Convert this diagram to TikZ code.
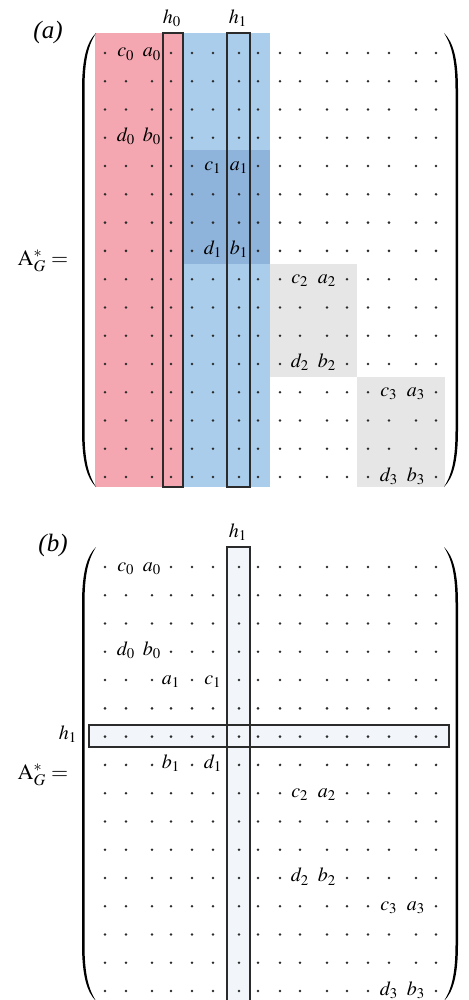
\documentclass[tikz,border=0pt]{standalone}
\usepackage{mathptmx}
\usepackage{fontspec}
\setmainfont{Liberation Serif}
\usepackage{tikz}
\usetikzlibrary{positioning}
\definecolor{spink}{HTML}{F4A7B0}
\definecolor{sblue}{HTML}{A9CDEB}
\definecolor{sdeep}{HTML}{8FB4DC}
\definecolor{sgrey}{HTML}{E6E6E6}
\definecolor{sline}{HTML}{2B2B2B}
\definecolor{stint}{HTML}{F2F6FA}
% column positions of the 16x16 grid
\newcommand{\colx}[1]{\ifcase#1\or 105\or 126\or 152\or 171\or 192\or 213\or 239\or 258\or 280\or 300\or 327\or 347\or 368\or 389\or 416\or 436\fi}
\newcommand{\ent}[5]{%
  \expandafter\gdef\csname ent@#1@#2@#3\endcsname{}%
  \node[ent] (#4) at ({\colx{#3}},{57+28.27*(#2-1)}) {$#5$};}
\newcommand{\dotgrid}[1]{%
  \foreach \rr in {1,...,16}{
    \foreach \xx [count=\cc] in {105,126,152,171,192,213,239,258,280,300,327,347,368,389,416,436}{
      \ifcsname ent@#1@\rr @\cc\endcsname\else
        \fill[mdot] (\xx,{53+28.27*(\rr-1)}) circle[radius=0.7pt];
      \fi}}}
\newcommand{\bigparen}[4]{% x of outer line, top, bottom, side (1 left, -1 right)
  \fill[brk] ({#1+#4*14},#2) .. controls ({#1+#4*5},{#2+9}) and (#1,{#2+25}) .. (#1,{#2+57})
    -- (#1,{#3-57}) .. controls (#1,{#3-25}) and ({#1+#4*5},{#3-9}) .. ({#1+#4*14},#3)
    .. controls ({#1+#4*7},{#3-11}) and ({#1+#4*2.5},{#3-25}) .. ({#1+#4*2.5},{#3-57})
    -- ({#1+#4*2.5},{#2+57}) .. controls ({#1+#4*2.5},{#2+25}) and ({#1+#4*7},{#2+11}) .. cycle;}
\tikzset{
  x=0.5pt, y=-0.5pt,
  font=\fontsize{10}{12}\selectfont,
  ent/.style={anchor=base, inner sep=0pt},
  mdot/.style={fill=sline, draw=none},
  hbox/.style={draw=sline, line width=0.65pt},
  hlab/.style={inner sep=0pt},
  tag/.style={inner sep=0pt, font=\fontsize{12.5}{14}\selectfont\itshape},
  eqlab/.style={anchor=base, inner sep=0pt, font=\fontsize{11}{13}\selectfont},
  brk/.style={fill=black}
}
\begin{document}
\begin{tikzpicture}
  \useasboundingbox (0,0) rectangle (468,1000);
  % (a)
  \fill[spink] (95,33) rectangle (183,487);
  \fill[sblue] (183,33) rectangle (270,487);
  \fill[sdeep] (183,150) rectangle (270,264);
  \fill[sgrey] (270,264) rectangle (357,377);
  \fill[sgrey] (357,377) rectangle (445,487);
  \ent{a}{1}{2}{ac0}{c_0} \ent{a}{1}{3}{aa0}{a_0}
  \ent{a}{4}{2}{ad0}{d_0} \ent{a}{4}{3}{ab0}{b_0}
  \ent{a}{5}{6}{ac1}{c_1} \ent{a}{5}{7}{aa1}{a_1}
  \ent{a}{8}{6}{ad1}{d_1} \ent{a}{8}{7}{ab1}{b_1}
  \ent{a}{9}{10}{ac2}{c_2} \ent{a}{9}{11}{aa2}{a_2}
  \ent{a}{12}{10}{ad2}{d_2} \ent{a}{12}{11}{ab2}{b_2}
  \ent{a}{13}{14}{ac3}{c_3} \ent{a}{13}{15}{aa3}{a_3}
  \ent{a}{16}{14}{ad3}{d_3} \ent{a}{16}{15}{ab3}{b_3}
  \dotgrid{a}
  \draw[hbox] (163,33) rectangle (183,487);
  \draw[hbox] (227,33) rectangle (250,487);
  \node[hlab] (ah0) at (172,18) {$h_0$};
  \node[hlab] (ah1) at (238,18) {$h_1$};
  \bigparen{82}{33}{487}{1}
  \bigparen{458}{33}{487}{-1}
  \node[tag] (atag) at (48,32) {(a)};
  \node[eqlab] (aeq) at (43,265) {$\mathrm{A}_G^{*} =$};
  % (b)
  \begin{scope}[shift={(0,514)}]
    \fill[stint] (227,33) rectangle (250,495);
    \fill[stint] (89,211) rectangle (449,233);
    \ent{b}{1}{2}{bc0}{c_0} \ent{b}{1}{3}{ba0}{a_0}
    \ent{b}{4}{2}{bd0}{d_0} \ent{b}{4}{3}{bb0}{b_0}
    \ent{b}{5}{4}{ba1}{a_1} \ent{b}{5}{6}{bc1}{c_1}
    \ent{b}{8}{4}{bb1}{b_1} \ent{b}{8}{6}{bd1}{d_1}
    \ent{b}{9}{10}{bc2}{c_2} \ent{b}{9}{11}{ba2}{a_2}
    \ent{b}{12}{10}{bd2}{d_2} \ent{b}{12}{11}{bb2}{b_2}
    \ent{b}{13}{14}{bc3}{c_3} \ent{b}{13}{15}{ba3}{a_3}
    \ent{b}{16}{14}{bd3}{d_3} \ent{b}{16}{15}{bb3}{b_3}
    \dotgrid{b}
    \draw[hbox] (227,33) rectangle (250,495);
    \draw[hbox] (89,211) rectangle (449,233);
    \node[hlab] (bh1) at (238,18) {$h_1$};
    \node[hlab] (bh1l) at (68,220) {$h_1$};
    \bigparen{82}{33}{487}{1}
    \bigparen{458}{33}{487}{-1}
    \node[tag] (btag) at (53,31) {(b)};
    \node[eqlab] (beq) at (43,265) {$\mathrm{A}_G^{*} =$};
  \end{scope}
\end{tikzpicture}
\end{document}
